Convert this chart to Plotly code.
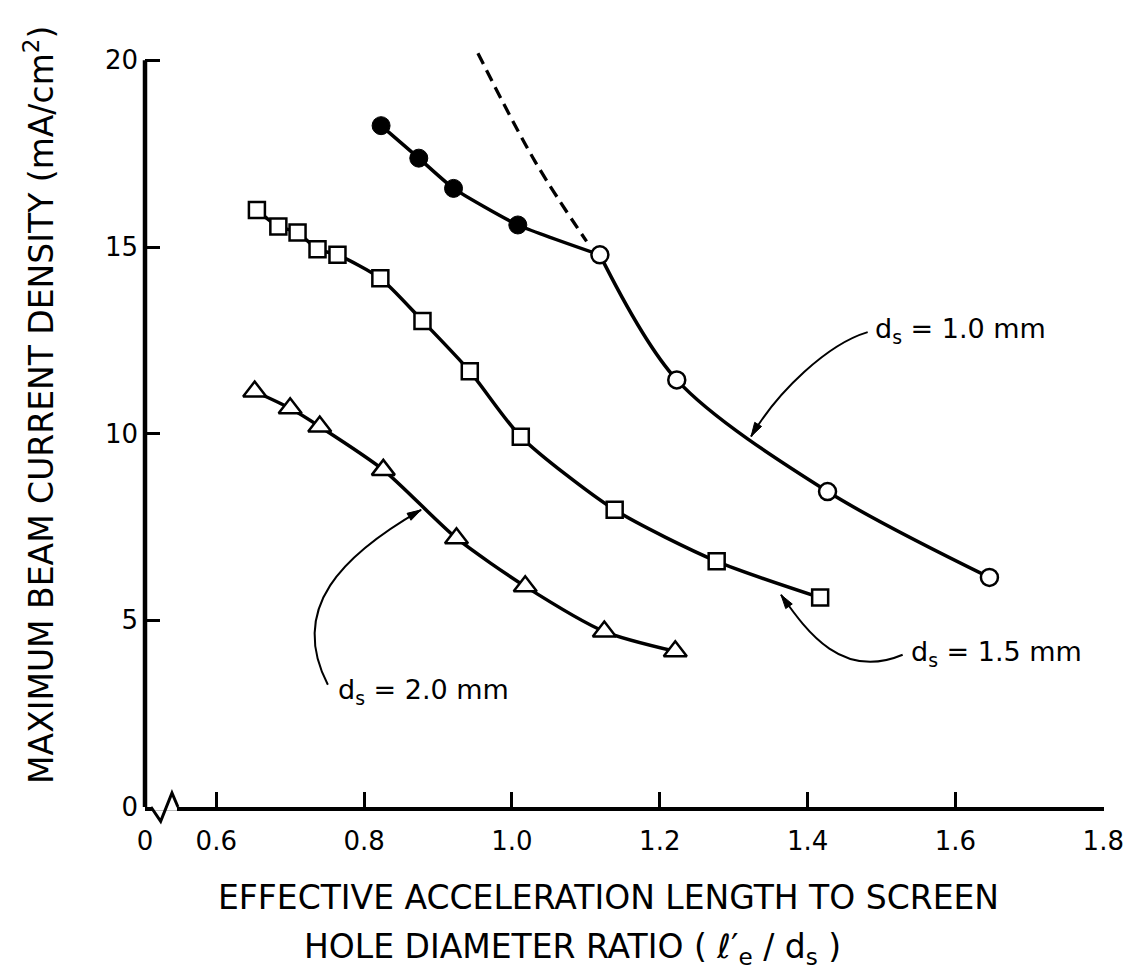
import math
import plotly.graph_objects as go

# ---------------- data ----------------
filled_x = [0.823, 0.874, 0.921, 1.008]
filled_y = [18.25, 17.38, 16.57, 15.59]
open_x = [1.119, 1.223, 1.427, 1.646]
open_y = [14.79, 11.44, 8.45, 6.15]
dash_x = [0.954, 1.031, 1.101]
dash_y = [20.19, 17.30, 15.15]
sq_x = [0.655, 0.684, 0.710, 0.737, 0.764, 0.822, 0.879, 0.943, 1.012, 1.139, 1.277, 1.417]
sq_y = [15.99, 15.55, 15.39, 14.94, 14.79, 14.16, 13.02, 11.67, 9.92, 7.96, 6.58, 5.61]
tri_x = [0.652, 0.700, 0.740, 0.826, 0.925, 1.018, 1.125, 1.221]
tri_y = [11.13, 10.68, 10.19, 9.03, 7.20, 5.91, 4.70, 4.17]

xtick_vals = [0.6, 0.8, 1.0, 1.2, 1.4, 1.6, 1.8]
xtick_text = ["0.6", "0.8", "1.0", "1.2", "1.4", "1.6", "1.8"]
ytick_vals = [0, 5, 10, 15, 20]
ytick_text = ["0", "5", "10", "15", "20"]

labels = ["d<sub>s</sub> = 1.0 mm", "d<sub>s</sub> = 1.5 mm", "d<sub>s</sub> = 2.0 mm"]
x_title_1 = "EFFECTIVE ACCELERATION LENGTH TO SCREEN"
x_title_2 = "HOLE DIAMETER RATIO ( <i>ℓ</i>′<sub>e</sub> / d<sub>s</sub> )"
y_title = "MAXIMUM BEAM CURRENT DENSITY (mA/cm<sup>2</sup>)"

# ---------------- layout geometry ----------------
W, H = 1138, 978
ML, MR, MT, MB = 137, 42, 43, 179
X_LO, X_HI = 0.5036, 1.801
Y_LO, Y_HI = 0.0, 20.25
FONT = "DejaVu Sans"
BLACK = "black"

PLOT_W = W - ML - MR
PLOT_H = H - MT - MB
SX = PLOT_W / (X_HI - X_LO)   # px per x unit
SY = PLOT_H / (Y_HI - Y_LO)   # px per y unit


def xp(x):
    return (x - X_LO) / (X_HI - X_LO)


def yp(y):
    return (y - Y_LO) / (Y_HI - Y_LO)


fig = go.Figure()

# d_s = 1.0 mm : filled-circle branch line (joins the first open circle)
fig.add_trace(go.Scatter(
    x=filled_x + [open_x[0]], y=filled_y + [open_y[0]], mode="lines",
    line=dict(color=BLACK, width=3.5, shape="spline", smoothing=0.5),
    showlegend=False, hoverinfo="skip"))
# dashed extrapolation
fig.add_trace(go.Scatter(
    x=dash_x, y=dash_y, mode="lines",
    line=dict(color=BLACK, width=3.3, dash="12px,7px", shape="spline"),
    showlegend=False, hoverinfo="skip"))
# d_s = 1.0 mm open circles
fig.add_trace(go.Scatter(
    x=open_x, y=open_y, mode="lines+markers",
    line=dict(color=BLACK, width=3.5, shape="spline", smoothing=0.9),
    marker=dict(symbol="circle", size=17, color="white", line=dict(color=BLACK, width=2.5)),
    showlegend=False, cliponaxis=False))
# filled circles
fig.add_trace(go.Scatter(
    x=filled_x, y=filled_y, mode="markers",
    marker=dict(symbol="circle", size=18, color=BLACK, line=dict(color=BLACK, width=1)),
    showlegend=False, cliponaxis=False))
# d_s = 1.5 mm squares
fig.add_trace(go.Scatter(
    x=sq_x, y=sq_y, mode="lines+markers",
    line=dict(color=BLACK, width=3.5, shape="spline", smoothing=0.7),
    marker=dict(symbol="square", size=16, color="white", line=dict(color=BLACK, width=2.5)),
    showlegend=False, cliponaxis=False))
# d_s = 2.0 mm triangles
fig.add_trace(go.Scatter(
    x=tri_x, y=tri_y, mode="lines+markers",
    line=dict(color=BLACK, width=3.5, shape="spline", smoothing=0.7),
    marker=dict(symbol="triangle-up", size=20, color="white", line=dict(color=BLACK, width=2.5)),
    showlegend=False, cliponaxis=False))

shapes = []
# y axis line (ends at 20)
shapes.append(dict(type="line", xref="paper", yref="y", x0=0, x1=0, y0=0, y1=20,
                   line=dict(color=BLACK, width=4.5), layer="above"))
# axis break on the x axis
zz = [(0.5117, 0.0), (0.5248, -0.383), (0.5401, 0.375), (0.5482, 0.0)]
shapes.append(dict(type="rect", xref="paper", yref="paper",
                   x0=xp(zz[0][0]) + 0.001, x1=xp(zz[-1][0]) - 0.001,
                   y0=yp(-0.1), y1=yp(0.1),
                   fillcolor="white", line=dict(width=0), layer="above"))
path = "M " + " L ".join(f"{xp(a):.5f},{yp(b):.5f}" for a, b in zz)
shapes.append(dict(type="path", xref="paper", yref="paper", path=path,
                   line=dict(color=BLACK, width=3), layer="above"))

# curved label leaders (cubic Bezier, data coordinates) with arrowheads
leaders = [
    [(1.4813, 12.72), (1.4272, 12.40), (1.3596, 11.14), (1.3235, 9.925)],
    [(1.5286, 4.078), (1.4475, 3.400), (1.4001, 4.659), (1.3640, 5.684)],
    [(0.7510, 3.274), (0.6970, 5.328), (0.7713, 6.755), (0.8772, 7.960)],
]
HEAD_LEN, HEAD_HALF = 14.0, 4.0
for p in leaders:
    d = (f"M {p[0][0]},{p[0][1]} C {p[1][0]},{p[1][1]} "
         f"{p[2][0]},{p[2][1]} {p[3][0]},{p[3][1]}")
    shapes.append(dict(type="path", xref="x", yref="y", path=d,
                       line=dict(color=BLACK, width=2), layer="above"))
    # arrowhead in pixel space, converted back to data units
    ux = (p[3][0] - p[2][0]) * SX
    uy = (p[3][1] - p[2][1]) * SY
    n = math.hypot(ux, uy)
    ux, uy = ux / n, uy / n
    bx = p[3][0] - ux * HEAD_LEN / SX
    by = p[3][1] - uy * HEAD_LEN / SY
    lx, ly = bx - uy * HEAD_HALF / SX, by + ux * HEAD_HALF / SY
    rx, ry = bx + uy * HEAD_HALF / SX, by - ux * HEAD_HALF / SY
    head = f"M {p[3][0]},{p[3][1]} L {lx},{ly} L {rx},{ry} Z"
    shapes.append(dict(type="path", xref="x", yref="y", path=head,
                       fillcolor=BLACK, line=dict(color=BLACK, width=1), layer="above"))

annotations = []
label_pos = [(1.488, 12.76), (1.5377, 4.12), (0.7623, 3.10)]
for t, (lx, ly) in zip(labels, label_pos):
    annotations.append(dict(x=lx, y=ly, xref="x", yref="y", text=t, showarrow=False,
                            xanchor="left", yanchor="middle",
                            font=dict(family=FONT, size=27, color=BLACK)))

annotations.append(dict(x=0.4828, y=0, xref="paper", yref="paper", yshift=-90,
                        text=x_title_1, showarrow=False, xanchor="center", yanchor="middle",
                        font=dict(family=FONT, size=33, color=BLACK)))
annotations.append(dict(x=0.446, y=0, xref="paper", yref="paper", yshift=-141,
                        text=x_title_2, showarrow=False, xanchor="center", yanchor="middle",
                        font=dict(family=FONT, size=33, color=BLACK)))
annotations.append(dict(x=-0.1094, y=0.532, xref="paper", yref="paper",
                        text=y_title, textangle=-90, showarrow=False,
                        xanchor="center", yanchor="middle",
                        font=dict(family=FONT, size=33, color=BLACK)))

fig.update_layout(
    width=W, height=H,
    margin=dict(l=ML, r=MR, t=MT, b=MB, pad=0),
    paper_bgcolor="white", plot_bgcolor="white",
    font=dict(family=FONT, color=BLACK, size=25),
    showlegend=False,
    shapes=shapes, annotations=annotations,
    xaxis=dict(range=[X_LO, X_HI], showline=True, linecolor=BLACK, linewidth=3.5,
               ticks="inside", ticklen=15, tickwidth=2.5, tickcolor=BLACK,
               tickvals=[X_LO] + xtick_vals, ticktext=["0"] + xtick_text,
               showgrid=False, zeroline=False, ticklabelstandoff=8,
               tickfont=dict(family=FONT, size=26, color=BLACK)),
    yaxis=dict(range=[Y_LO, Y_HI], showline=False,
               ticks="inside", ticklen=15, tickwidth=2.5, tickcolor=BLACK,
               tickvals=ytick_vals, ticktext=ytick_text,
               showgrid=False, zeroline=False, ticklabelstandoff=6,
               tickfont=dict(family=FONT, size=26, color=BLACK)),
)

fig.write_html("out.html")
